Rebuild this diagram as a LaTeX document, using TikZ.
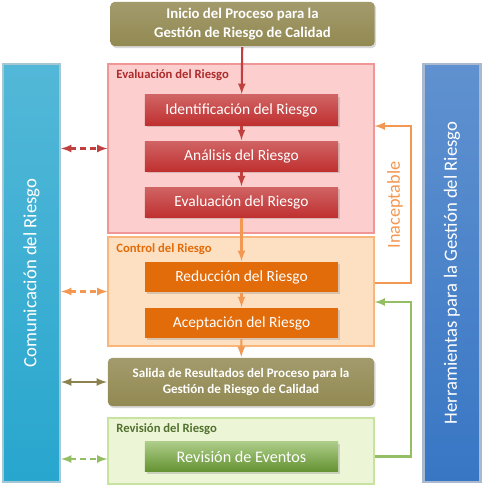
\documentclass[tikz,border=0pt]{standalone}
\usepackage{fontspec}
\setmainfont{Carlito}
\usetikzlibrary{positioning}
\usetikzlibrary{calc}
\usetikzlibrary{shadows}
\definecolor{olivebox}{RGB}{146,137,82}
\definecolor{redbox}{RGB}{192,48,48}
\definecolor{orangebox}{RGB}{226,107,10}
\definecolor{greenbox}{RGB}{118,172,58}
\definecolor{cyanbar}{RGB}{40,166,206}
\definecolor{bluebar}{RGB}{56,118,196}
\definecolor{pinkfill}{RGB}{252,206,206}
\definecolor{pinkline}{RGB}{240,150,150}
\definecolor{peachfill}{RGB}{253,224,194}
\definecolor{peachline}{RGB}{248,182,122}
\definecolor{limefill}{RGB}{236,246,214}
\definecolor{limeline}{RGB}{200,226,160}
\definecolor{redarrow}{RGB}{192,64,64}
\definecolor{orangearrow}{RGB}{242,152,82}
\definecolor{greenarrow}{RGB}{148,190,100}
\definecolor{olivearrow}{RGB}{140,130,80}
\tikzset{sidebar/.style={rotate=90,minimum width=10.45cm,minimum height=1.425cm,inner sep=0pt,text=white,font=\fontsize{13.3}{16}\selectfont},
container/.style={minimum width=6.65cm,inner sep=0pt,line width=0.8pt},
stepbox/.style={minimum width=4.825cm,minimum height=0.75cm,inner sep=0pt,text=white,font=\fontsize{11}{13}\selectfont,drop shadow={opacity=0.3,shadow xshift=0.04cm,shadow yshift=-0.05cm}},
headbox/.style={minimum width=6.6cm,rounded corners=0.1cm,inner sep=0pt,align=center,text=white,font=\bfseries\fontsize{10.5}{13.5}\selectfont,drop shadow={opacity=0.3,shadow xshift=0.04cm,shadow yshift=-0.05cm}},
tag/.style={anchor=west,inner sep=0pt,font=\bfseries\fontsize{9}{11}\selectfont}}

\begin{document}
\begin{tikzpicture}[x=0.025cm,y=-0.025cm,line width=1.5pt]
\useasboundingbox (0,0) rectangle (482,486);

\node (comun) at (31.5,273) [sidebar,top color=cyanbar!80,bottom color=cyanbar,draw=cyanbar!70!black!40] {Comunicación del Riesgo};
\node (herram) at (452,273) [sidebar,top color=bluebar!80!white,bottom color=bluebar,draw=bluebar!70!black!40] {Herramientas para la Gestión del Riesgo};

\node (inicio) at (242.5,24) [headbox,minimum height=1.1cm,top color=olivebox!85!white,bottom color=olivebox] {Inicio del Proceso para la\\Gestión de Riesgo de Calidad};

\node (eval) at (241,148.5) [container,minimum height=4.225cm,fill=pinkfill,draw=pinkline] {};
\node (control) at (241,291.5) [container,minimum height=2.725cm,fill=peachfill,draw=peachline] {};
\node (salida) at (241,382) [headbox,minimum width=6.65cm,minimum height=1.2cm,top color=olivebox!85!white,bottom color=olivebox,font=\bfseries\fontsize{9.3}{12}\selectfont] {Salida de Resultados del Proceso para la\\Gestión de Riesgo de Calidad};
\node (revis) at (241,451) [container,minimum height=1.65cm,fill=limefill,draw=limeline] {};

\node (tageval) at ($(eval.north west)+(8,12)$) [tag,text=redbox!90!black] {Evaluación del Riesgo};
\node (tagcontrol) at ($(control.north west)+(8,13)$) [tag,text=orangebox] {Control del Riesgo};
\node (tagrevis) at ($(revis.north west)+(8,12)$) [tag,text=olivebox!80!green!70!black] {Revisión del Riesgo};

\node (ident) at (241.5,110) [stepbox,top color=redbox!75!white,bottom color=redbox] {Identificación del Riesgo};
\node (analisis) [stepbox,below=0.35cm of ident,top color=redbox!75!white,bottom color=redbox] {Análisis del Riesgo};
\node (evalr) [stepbox,below=0.35cm of analisis,top color=redbox!75!white,bottom color=redbox] {Evaluación del Riesgo};
\node (reduc) at (241.5,277) [stepbox,fill=orangebox] {Reducción del Riesgo};
\node (acept) [stepbox,below=0.35cm of reduc,fill=orangebox] {Aceptación del Riesgo};
\node (eventos) at (241.5,456.5) [stepbox,top color=greenbox!60!white,bottom color=greenbox!85!black,font=\fontsize{11.5}{13}\selectfont] {Revisión de Eventos};

% flujo principal
\draw[-latex,redarrow] (inicio) -- (ident);
\draw[-latex,redarrow] (ident) -- (analisis);
\draw[-latex,redarrow] (analisis) -- (evalr);
\draw[-latex,orangearrow] (evalr) -- (reduc);
\draw[-latex,orangearrow] (reduc) -- (acept);
\draw[-latex,orangearrow] (acept) -- (salida);

% lazos de retorno
\draw[-latex,orangearrow] (control.east |- 0,283) -- ++(36,0) |- (eval.east |- ident.south);
\node (inac) at (395,205) [rotate=90,text=orangearrow,font=\fontsize{13}{15}\selectfont] {Inaceptable};
\draw[-latex,greenarrow] (revis.east |- eventos) -- ++(36,0) |- (control.east |- 0,302);

% comunicacion
\draw[latex-latex,redarrow,dashed,dash pattern=on 4pt off 3pt] (comun.south |- eval.west) -- (eval.west);
\draw[latex-latex,orangearrow,dashed,dash pattern=on 4pt off 3pt] (comun.south |- control.west) -- (control.west);
\draw[latex-latex,olivearrow] (comun.south |- salida.west) -- (salida.west);
\draw[latex-latex,greenarrow,dashed,dash pattern=on 4pt off 3pt] (comun.south |- 0,459) -- (revis.west |- 0,459);

\end{tikzpicture}
\end{document}
